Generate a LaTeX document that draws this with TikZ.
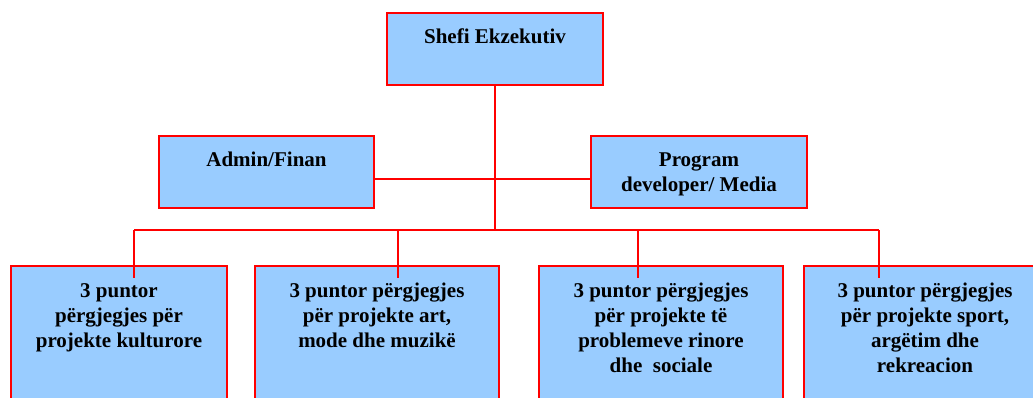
\documentclass[tikz,border=0pt]{standalone}
\usepackage{fontspec}
\setmainfont{Liberation Serif}[BoldFont={Liberation Serif Bold}]
\newfontfamily\orgfont{Liberation Serif Bold}
\definecolor{boxfill}{HTML}{99CCFF}
\definecolor{boxred}{HTML}{FF0000}
\newcommand{\orgtext}[3]{\parbox[c][#2][t]{#1}{\centering\rule{0pt}{31pt}#3}}
\tikzset{
  orgbox/.style={draw=boxred, fill=boxfill, line width=2pt, inner sep=0pt, anchor=north west,
    font=\orgfont\fontsize{21}{25}\selectfont},
  link/.style={draw=boxred, line width=2pt}
}
\begin{document}
\begin{tikzpicture}[x=1pt,y=-1pt]
\useasboundingbox (0,0) rectangle (1033,398);
\clip (0,0) rectangle (1033,398);
\node[orgbox] (ceo) at (386,12) {\orgtext{216pt}{72pt}{Shefi Ekzekutiv}};
\node[orgbox] (admin) at (158,135) {\orgtext{215pt}{72pt}{Admin/Finan}};
\node[orgbox] (prog) at (590,135) {\orgtext{216pt}{72pt}{Program\\developer/ Media}};
\node[orgbox] (b1) at (10,265) {\orgtext{216pt}{160pt}{3 puntor\\përgjegjes për\\projekte kulturore}};
\node[orgbox] (b2) at (254,265) {\orgtext{244pt}{160pt}{3 puntor përgjegjes\\për projekte art,\\mode dhe muzikë}};
\node[orgbox] (b3) at (538,265) {\orgtext{244pt}{160pt}{3 puntor përgjegjes\\për projekte të\\problemeve rinore\\dhe \ sociale}};
\node[orgbox] (b4) at (803,265) {\orgtext{242pt}{160pt}{3 puntor përgjegjes\\për projekte sport,\\argëtim dhe\\rekreacion}};
\coordinate (j1) at (134,230);
\coordinate (j2) at (398,230);
\coordinate (j3) at (638,230);
\coordinate (j4) at (879,230);
\draw[link] (ceo.south) -- (ceo.south |- j1);
\draw[link] ([yshift=-7pt]admin.east) -- ([yshift=-7pt]prog.west);
\draw[link] (j1) -- (j4);
\draw[link] (j1) -- ([yshift=-13pt]b1.north -| j1);
\draw[link] (j2) -- ([yshift=-13pt]b2.north -| j2);
\draw[link] (j3) -- ([yshift=-13pt]b3.north -| j3);
\draw[link] (j4) -- ([yshift=-13pt]b4.north -| j4);
\end{tikzpicture}
\end{document}
